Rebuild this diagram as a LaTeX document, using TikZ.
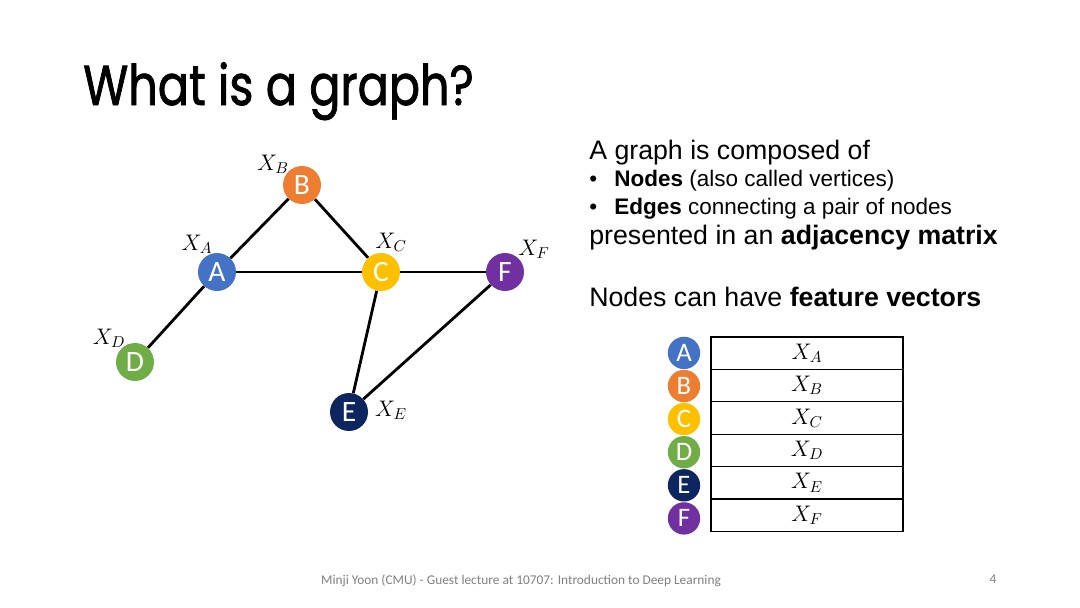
\documentclass[tikz,border=0pt]{standalone}
\usepackage{fix-cm}
\usepackage{fontspec}
\setmainfont{Liberation Sans}
\newfontfamily\titlefont{Poppins}[FakeBold=1.3, FakeStretch=0.82]
\newfontfamily\calibri{Carlito}
\usepackage{tikz}

\definecolor{nodeA}{HTML}{4472C4}
\definecolor{nodeB}{HTML}{ED7D31}
\definecolor{nodeC}{HTML}{FFC000}
\definecolor{nodeD}{HTML}{70AD47}
\definecolor{nodeE}{HTML}{0E2660}
\definecolor{nodeF}{HTML}{7030A0}
\definecolor{footgray}{HTML}{808080}

\begin{document}
\begin{tikzpicture}[x=0.025cm, y=-0.025cm,
    vertex/.style={circle, fill=#1, text=white, minimum size=27pt, inner sep=0pt,
      font=\calibri\fontsize{21}{21}\selectfont},
    tag/.style={circle, fill=#1, text=white, minimum size=23pt, inner sep=0pt,
      font=\calibri\fontsize{19}{19}\selectfont},
    edge/.style={line width=2pt},
    feature/.style={draw, line width=0.9pt, minimum width=4.8cm, minimum height=0.81cm,
      inner sep=0pt, font=\fontsize{16}{16}\selectfont},
    featlabel/.style={font=\fontsize{16}{16}\selectfont},
    slide/.style={anchor=base west, inner sep=0pt, font=\fontsize{19}{19}\selectfont},
    bullet/.style={anchor=base west, inner sep=0pt, font=\fontsize{16}{16}\selectfont}]
  \useasboundingbox [fill=white] (0, 0) rectangle (1080, 607);

  % Title
  \node [anchor=base west, inner sep=0pt, font=\titlefont\fontsize{40}{40}\selectfont]
    (title) at (83, 105) {What is a graph?};

  % Graph nodes
  \node [vertex=nodeA] (A) at (217, 272) {A};
  \node [vertex=nodeB] (B) at (302, 185) {B};
  \node [vertex=nodeC] (C) at (381, 272) {C};
  \node [vertex=nodeD] (D) at (135, 362) {D};
  \node [vertex=nodeE] (E) at (349, 412) {E};
  \node [vertex=nodeF] (F) at (505, 272) {F};

  % Edges
  \draw [edge] (A) -- (B);
  \draw [edge] (B) -- (C);
  \draw [edge] (A) -- (C);
  \draw [edge] (C) -- (F);
  \draw [edge] (A) -- (D);
  \draw [edge] (C) -- (E);
  \draw [edge] (E) -- (F);

  % Feature labels of the graph nodes
  \node [featlabel] (xA) at (197, 244) {$X_A$};
  \node [featlabel] (xB) at (273, 164) {$X_B$};
  \node [featlabel] (xC) at (391, 242) {$X_C$};
  \node [featlabel] (xD) at (109, 338) {$X_D$};
  \node [featlabel] (xE) at (391, 410) {$X_E$};
  \node [featlabel] (xF) at (534, 249) {$X_F$};

  % Description
  \node [slide] (intro) at (589, 159) {A graph is composed of};
  \node [bullet] (nodes) at (589, 186)
    {\makebox[17.8pt][l]{\textbullet}\textbf{Nodes} (also called vertices)};
  \node [bullet] (edges) at (589, 214)
    {\makebox[17.8pt][l]{\textbullet}\textbf{Edges} connecting a pair of nodes};
  \node [slide] (matrix) at (589, 244) {presented in an \textbf{adjacency matrix}};
  \node [slide] (vectors) at (589, 306) {Nodes can have \textbf{feature vectors}};

  % Feature table
  \foreach \name/\col [count=\i] in {A/nodeA, B/nodeB, C/nodeC, D/nodeD, E/nodeE, F/nodeF} {
    \node [tag=\col] (t\name) at (684, 319.8 + 33.1*\i) {\name};
    \node [feature] (r\name) at (807, 320.8 + 32.4*\i) {$X_\name$};
  }

  % Footer
  \node [font=\calibri\fontsize{9.5}{9.5}\selectfont, text=footgray] (foot) at (521, 581)
    {Minji Yoon (CMU) - Guest lecture at 10707: Introduction to Deep Learning};
  \node [font=\calibri\fontsize{9.5}{9.5}\selectfont, text=footgray] (page) at (993, 579) {4};
\end{tikzpicture}
\end{document}
